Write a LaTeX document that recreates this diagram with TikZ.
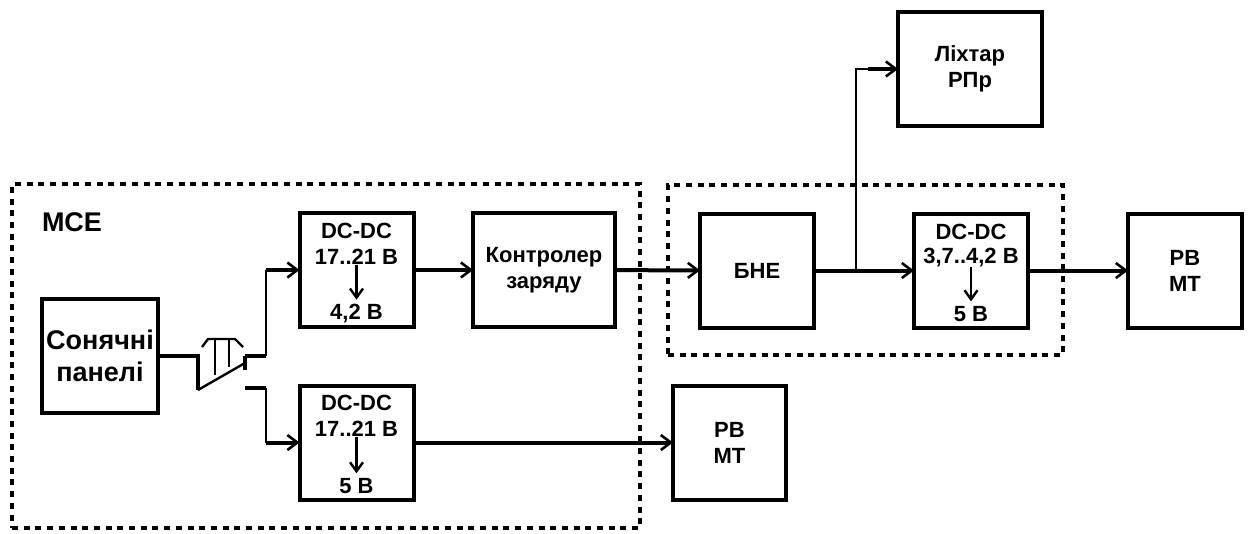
\documentclass[tikz,border=0pt]{standalone}
\usepackage{fontspec}
\setmainfont{Liberation Sans}
\usetikzlibrary{arrows.meta, positioning}

\begin{document}
\begin{tikzpicture}[
    x=1pt, y=-1pt,
    every node/.style={font=\fontsize{22}{26}\selectfont\bfseries, inner sep=0pt, outer sep=0pt},
    block/.style={rectangle, draw=black, line width=4pt, minimum width=114pt, minimum height=114pt, align=center},
    zone/.style={rectangle, draw=black, line width=3.1pt, dash pattern=on 6pt off 5.7pt},
    flow/.style={-{Straight Barb[length=10pt,width=15pt,line width=2.6pt]}, line width=4pt},
    down/.style={-{Straight Barb[length=9pt,width=13pt,line width=2.4pt]}, line width=2.6pt, shorten >=5pt},
    wire/.style={line width=2.4pt},
    bus/.style={line width=4.2pt}
]
\useasboundingbox (0,0) rectangle (1255,533);

% Dotted zones
\node[zone, minimum width=628pt, minimum height=344pt] (mce) at (326,356) {};
\node[zone, minimum width=395pt, minimum height=170pt] (zone2) at (865.5,270) {};
\node[font=\fontsize{27}{32}\selectfont\bfseries] (mcelab) at (72,222) {МСЕ};

% Blocks
\node[block, minimum width=116pt, font=\fontsize{27}{32}\selectfont\bfseries] (sun) at (100,356) {Сонячні\\панелі};
\node[block] (dc1) at (356.5,270) {};
\node[block, minimum width=142pt] (ctrl) at (544,270) {Контролер\\заряду};
\node[block] (dc2) at (356.5,442.5) {};
\node[block, minimum width=113pt] (rv1) at (729.5,442.5) {РВ\\МТ};
\node[block] (bne) at (757,270.5) {БНЕ};
\node[block] (dc3) at (971,270.5) {};
\node[block, minimum width=144pt] (lamp) at (970,69) {Ліхтар\\РПр};
\node[block] (rv2) at (1185,270.5) {РВ\\МТ};

% Texts inside the converters
\node (dc1a) at (356.5,231) {DC-DC};
\node (dc1b) at (356.5,257) {17..21 В};
\node (dc1c) at (356.5,314) {4,2 В};
\node (dc2a) at (356.5,403) {DC-DC};
\node (dc2b) at (356.5,429) {17..21 В};
\node (dc2c) at (356.5,486) {5 В};
\node (dc3a) at (971,232) {DC-DC};
\node (dc3b) at (971,258) {3,7..4,2 В};
\node (dc3c) at (971,314) {5 В};
\draw[down] (dc1b.south) -- (dc1c.north);
\draw[down] (dc2b.south) -- (dc2c.north);
\draw[down] (dc3b.south) -- (dc3c.north);

% Switch
\coordinate (swa) at (198,356);
\coordinate (swb) at (198,390);
\coordinate (swc) at (245,363);
\coordinate (up) at (245,356);
\coordinate (upend) at (245,370);
\coordinate (low) at (245,388);
\coordinate (upk) at (266,356);
\coordinate (lowk) at (266,388);
\coordinate (h1) at (215,339);
\coordinate (h1e) at (215,375);
\coordinate (h2) at (229,339);
\coordinate (h2e) at (229,367);
\coordinate (capa) at (202,347);
\coordinate (capb) at (208,339);
\coordinate (capc) at (235,339);
\coordinate (capd) at (243,347);
\draw[bus] (sun.east |- swa) -- (swa) -- (swb);
\draw[wire] (swb) -- (swc);
\draw[bus] (up) -- (upend);
\draw[wire] (h1) -- (h1e);
\draw[wire] (h2) -- (h2e);
\draw[wire] (capa) -- (capb) -- (capc) -- (capd);
\draw[bus] (up) -- (upk);
\draw[bus] (low) -- (lowk);

% Flows
\coordinate (upin) at (upk |- dc1.west);
\coordinate (lowin) at (lowk |- dc2.west);
\draw[wire] (upk) -- (upin);
\draw[flow] (upin) -- (dc1.west);
\draw[wire] (lowk) -- (lowin);
\draw[flow] (lowin) -- (dc2.west);
\draw[flow] (dc1) -- (ctrl);
\draw[flow] (ctrl) -- (bne);
\draw[flow] (bne) -- (dc3);
\draw[flow] (dc3) -- (rv2);
\draw[flow] (dc2) -- (rv1);
\coordinate (tap) at (856,270.5);
\coordinate (lampk) at (856,69);
\coordinate (lampt) at (868,69);
\draw[wire] (tap) -- (lampk) -- (lampt);
\draw[flow] (lampt) -- (lamp.west);
\end{tikzpicture}
\end{document}
